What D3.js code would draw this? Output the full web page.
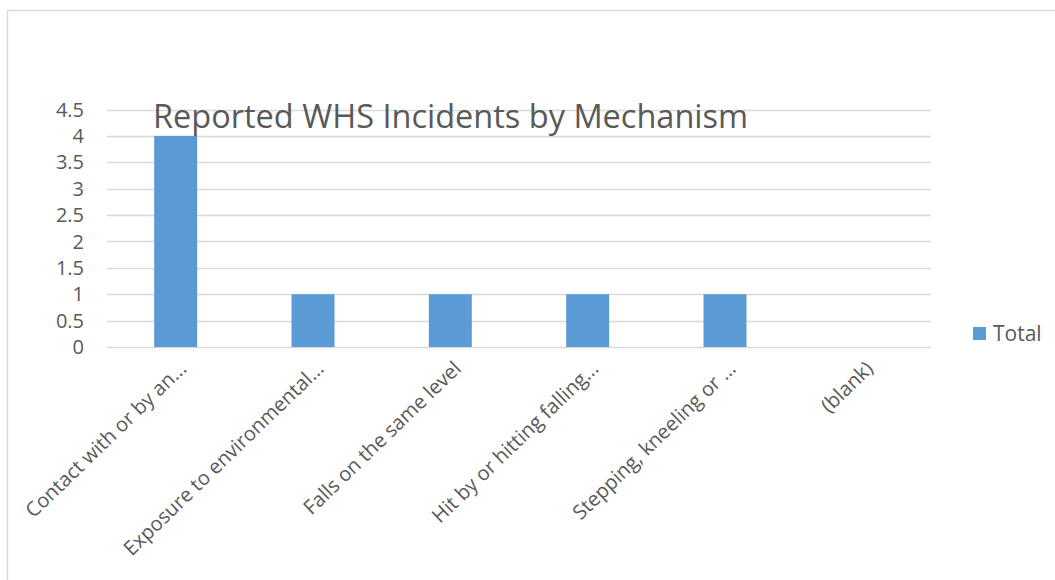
<!DOCTYPE html>
<html>
<head>
<meta charset="utf-8">
<style>
  body { margin: 0; background: #fff; }
  svg { display: block; font-family: "Open Sans", sans-serif; }
</style>
</head>
<body>
<svg width="1055" height="580"></svg>
<script src="https://d3js.org/d3.v7.min.js"></script>
<script>
// data
var categories = ["Contact with or by an...", "Exposure to environmental...", "Falls on the same level",
                  "Hit by or hitting falling...", "Stepping, kneeling or ...", "(blank)"];
var totals = [4, 1, 1, 1, 1, 0];
var yTicks = [0, 0.5, 1, 1.5, 2, 2.5, 3, 3.5, 4, 4.5];

var svg = d3.select("svg");
var textColor = "#595959", gridColor = "#d9d9d9", barColor = "#5b9bd5";

// outer chart border
svg.append("rect")
    .attr("x", 7.5).attr("y", 10.5)
    .attr("width", 1060).attr("height", 580)
    .attr("fill", "none").attr("stroke", gridColor).attr("stroke-width", 1.5);

var x = d3.scaleBand().domain(categories).range([107, 931]).padding(0);
var y = d3.scaleLinear().domain([0, 4.5]).range([347, 109.5]);
var barW = x.bandwidth() * 0.313;

// gridlines
svg.append("g").selectAll("line")
  .data(yTicks)
  .enter().append("line")
    .attr("x1", 107).attr("x2", 931)
    .attr("y1", function(d) { return Math.round(y(d)) + 0.5; })
    .attr("y2", function(d) { return Math.round(y(d)) + 0.5; })
    .attr("stroke", gridColor).attr("stroke-width", 1.5);

// y tick labels
svg.append("g").selectAll("text")
  .data(yTicks)
  .enter().append("text")
    .attr("x", 84)
    .attr("y", function(d) { return y(d); })
    .attr("dy", "0.36em")
    .attr("text-anchor", "end")
    .attr("font-size", 20)
    .attr("fill", textColor)
    .text(function(d) { return d; });

// bars
svg.append("g").selectAll("rect")
  .data(totals)
  .enter().append("rect")
    .attr("x", function(d, i) { return x(categories[i]) + x.bandwidth() / 2 - barW / 2; })
    .attr("y", function(d) { return y(d); })
    .attr("width", barW)
    .attr("height", function(d) { return y(0) - y(d); })
    .attr("fill", barColor);

// category labels, rotated
svg.append("g").selectAll("text")
  .data(categories)
  .enter().append("text")
    .attr("transform", function(d) {
      return "translate(" + (x(d) + x.bandwidth() / 2 + 12) + ",370) rotate(-44)";
    })
    .attr("text-anchor", "end")
    .attr("font-size", 20)
    .attr("fill", textColor)
    .text(function(d) { return d; });

// title
svg.append("text")
    .attr("x", 153).attr("y", 128)
    .attr("font-size", 32.5)
    .attr("fill", textColor)
    .text("Reported WHS Incidents by Mechanism");

// legend
svg.append("rect")
    .attr("x", 973).attr("y", 327)
    .attr("width", 13).attr("height", 13)
    .attr("fill", barColor);
svg.append("text")
    .attr("x", 993).attr("y", 341)
    .attr("font-size", 21)
    .attr("fill", textColor)
    .text("Total");
</script>
</body>
</html>
